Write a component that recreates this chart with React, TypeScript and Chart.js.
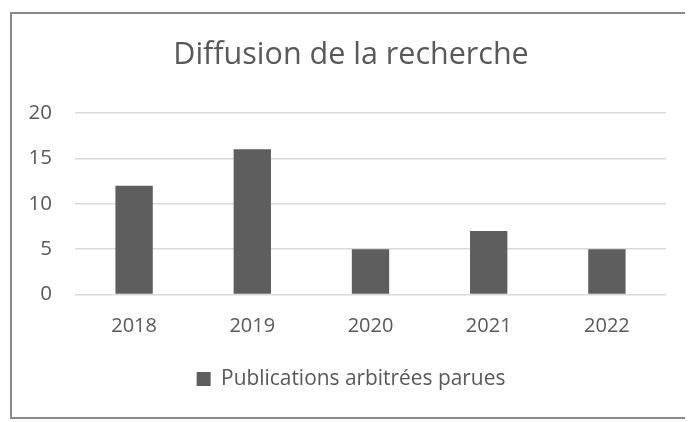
import React, { useEffect, useRef } from "react";
import { Chart, registerables } from "chart.js";

Chart.register(...registerables);

const categories = ["2018", "2019", "2020", "2021", "2022"];
const publications = [12, 16, 5, 7, 5];
const seriesLabel = "Publications arbitrées parues";
const chartTitle = "Diffusion de la recherche";
const yMin = 0;
const yMax = 20;
const yStep = 5;

const FONT = "'Open Sans', 'Noto Sans', sans-serif";
const TEXT = "#595959";

export default function App() {
  const ref = useRef<HTMLCanvasElement | null>(null);

  useEffect(() => {
    if (!ref.current) return;
    const chart = new Chart(ref.current, {
      type: "bar",
      data: {
        labels: categories,
        datasets: [
          {
            label: seriesLabel,
            data: publications,
            backgroundColor: "#5e5e5e",
            borderWidth: 0,
            categoryPercentage: 1,
            barPercentage: 0.316,
            yAxisID: "y",
          },
        ],
      },
      options: {
        animation: false,
        responsive: false,
        maintainAspectRatio: false,
        layout: { padding: { top: 0, left: 0, right: 0, bottom: 22.5 } },
        plugins: {
          title: {
            display: true,
            text: chartTitle,
            color: TEXT,
            font: { family: FONT, size: 30.5, weight: "normal" },
            padding: { top: 37.5, bottom: 38.9 },
          },
          legend: {
            display: true,
            position: "bottom",
            labels: {
              color: TEXT,
              font: { family: FONT, size: 20.9 },
              boxWidth: 14,
              boxHeight: 14,
              padding: 10,
            },
          },
          tooltip: { enabled: false },
        },
        scales: {
          x: {
            grid: { display: false, drawTicks: false },
            border: { display: false },
            ticks: {
              color: TEXT,
              font: { family: FONT, size: 20 },
              padding: 20,
            },
            afterFit: (s: any) => {
              s.height = 64;
            },
          },
          y: {
            min: yMin,
            max: yMax,
            grid: { color: "#d9d9d9", lineWidth: 1.5, drawTicks: false },
            border: { display: false },
            ticks: {
              stepSize: yStep,
              color: TEXT,
              font: { family: FONT, size: 20.5 },
              padding: 23,
            },
            afterFit: (s: any) => {
              s.width = 75;
            },
          },
          spacer: {
            type: "linear",
            position: "right",
            display: true,
            grid: { display: false, drawTicks: false },
            border: { display: false },
            ticks: { display: false },
            afterFit: (s: any) => {
              s.width = 36;
            },
          },
        },
      },
    });
    return () => chart.destroy();
  }, []);

  return (
    <div
      style={{
        position: "absolute",
        left: 0,
        top: 0,
        width: 694,
        height: 422,
        background: "#fff",
        overflow: "hidden",
      }}
    >
      <div
        style={{
          position: "absolute",
          left: 10,
          top: 12,
          width: 673,
          height: 403,
          borderLeft: "2px solid #8a8a8a",
          borderTop: "2px solid #8a8a8a",
          borderBottom: "2px solid #8a8a8a",
        }}
      />
      <canvas ref={ref} width={702} height={422} style={{ position: "absolute", left: 0, top: 0 }} />
    </div>
  );
}
